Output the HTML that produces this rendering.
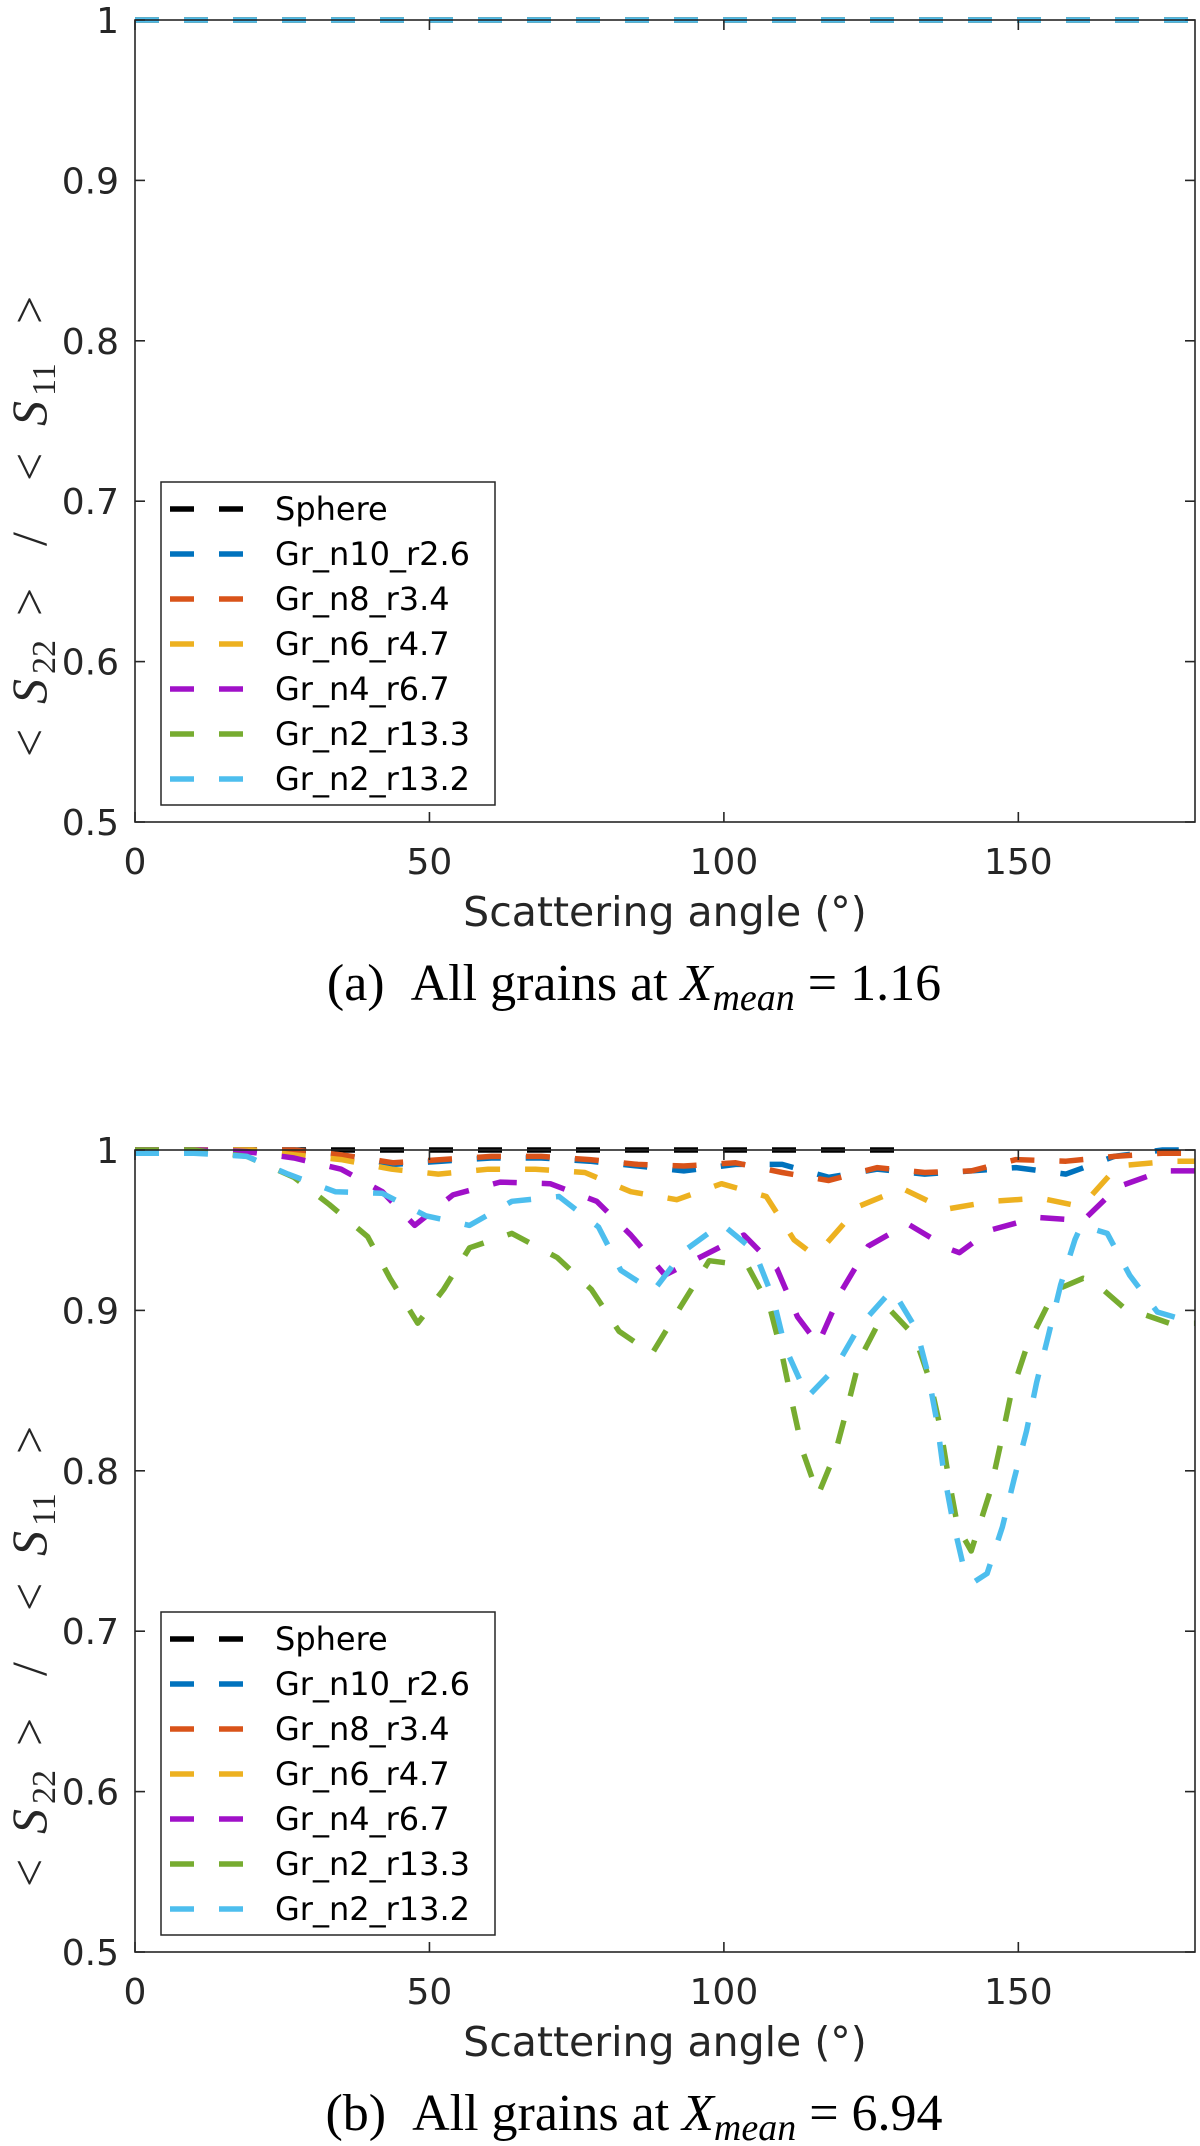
<!DOCTYPE html>
<html>
<head>
<meta charset="utf-8">
<style>
  html, body { margin: 0; padding: 0; background: #fff; }
  svg { display: block; }
  .tick-label { font-family: "DejaVu Sans", "Liberation Sans", sans-serif; font-size: 36px; fill: #262626; }
  .axis-title { font-family: "DejaVu Sans", "Liberation Sans", sans-serif; font-size: 41px; fill: #262626; }
  .legend-text { font-family: "DejaVu Sans", "Liberation Sans", sans-serif; font-size: 32px; fill: #000; }
  .caption { font-family: "Liberation Serif", serif; font-size: 52px; fill: #000; }
  .ylab { font-family: "Liberation Serif", serif; font-size: 50px; fill: #262626; }
</style>
</head>
<body>
<svg id="fig" width="1200" height="2146" viewBox="0 0 1200 2146" xmlns="http://www.w3.org/2000/svg"></svg>
<script>
// ---------- data ----------
const seriesNames = ["Sphere", "Gr_n10_r2.6", "Gr_n8_r3.4", "Gr_n6_r4.7", "Gr_n4_r6.7", "Gr_n2_r13.3", "Gr_n2_r13.2"];
const xTicks = [0, 50, 100, 150];
const yTicks = [0.5, 0.6, 0.7, 0.8, 0.9, 1];
const yTickLabels = ["0.5", "0.6", "0.7", "0.8", "0.9", "1"];

// Panel (a): all grains at X_mean = 1.16
const aSphereX = [0, 180];  const aSphereY = [1, 1];
const aN10X = [0, 180];     const aN10Y = [1, 1];
const aN8X = [0, 180];      const aN8Y = [1, 1];
const aN6X = [0, 180];      const aN6Y = [1, 1];
const aN4X = [0, 180];      const aN4Y = [1, 1];
const aN2aX = [0, 180];     const aN2aY = [1, 1];
const aN2bX = [0, 180];     const aN2bY = [1, 1];

// Panel (b): all grains at X_mean = 6.94
const bSphereX = [0, 129];
const bSphereY = [1, 1];
const bN10X = [0,10,20,27,35,43.9,52,60.5,69,77.2,85.4,93.2,102,109.9,117.8,126,134.1,142,149.6,158.1,166.3,174.5,180];
const bN10Y = [1,1,1,1,0.997,0.991,0.993,0.995,0.995,0.993,0.99,0.987,0.991,0.991,0.983,0.988,0.985,0.987,0.989,0.985,0.996,1,1];
const bN8X = [0,10,20,27,35,43.9,52,60.5,69,77.2,85.4,93.2,102,109.9,117.8,126,134.1,142,149.6,158.1,166.3,174.5,180];
const bN8Y = [1,1,1,1,0.997,0.992,0.994,0.996,0.996,0.994,0.991,0.99,0.992,0.986,0.981,0.989,0.986,0.987,0.994,0.993,0.996,0.998,0.998];
const bN6X = [0,10,20,27,35,43.6,51.5,60,68,76.4,84.2,92,99.6,107.2,111.9,114.8,117.5,123,130.3,137.6,145.5,153.7,159,161.5,166.9,176,180];
const bN6Y = [1,1,1,0.997,0.994,0.988,0.985,0.988,0.988,0.986,0.974,0.969,0.979,0.971,0.944,0.936,0.942,0.965,0.976,0.963,0.968,0.97,0.966,0.968,0.99,0.993,0.993];
const bN4X = [0,10,19,27,35,42,47.5,54,62,70.5,78.4,84.2,90,96.4,103.4,109,112.5,116,120.1,124.5,131.2,138.5,140,145.2,153.1,161,166.9,174.5,180];
const bN4Y = [1,1,0.999,0.995,0.988,0.974,0.953,0.972,0.98,0.979,0.968,0.947,0.922,0.934,0.947,0.926,0.896,0.879,0.913,0.94,0.954,0.938,0.936,0.95,0.958,0.956,0.977,0.987,0.987];
const bN2aX = [0,10,19,27,33,39.5,43.3,48,52.4,56.8,64,71.7,77.5,82.2,87.8,92.6,97.5,104,107.8,109.9,111.6,113.4,116,118.9,121,123,126.8,128.3,132.4,135,136.8,138.2,139.7,142,145.2,147,148.7,151.4,155.2,157.2,161,162.8,167.8,175.6,180];
const bN2aY = [1,1,0.996,0.983,0.966,0.946,0.92,0.892,0.913,0.939,0.948,0.933,0.913,0.887,0.873,0.902,0.931,0.928,0.902,0.872,0.842,0.812,0.785,0.811,0.84,0.869,0.896,0.9,0.884,0.856,0.826,0.795,0.765,0.75,0.787,0.817,0.847,0.877,0.905,0.914,0.92,0.918,0.902,0.892,0.892];
const bN2bX = [0,10,19,26,34,42,49.4,56.8,64,72,78.7,82.5,88,93.2,99.6,105.2,108.4,110.4,114.2,118.9,123,128.6,132.7,134.7,136.2,137.3,138.8,140.9,142.6,144.7,147.3,149.3,151.4,153.1,155.2,157.2,159.6,160.7,165.1,168.9,173.6,180];
const bN2bY = [0.998,0.998,0.996,0.985,0.974,0.973,0.959,0.953,0.968,0.971,0.952,0.925,0.912,0.937,0.954,0.937,0.907,0.877,0.846,0.864,0.89,0.913,0.888,0.86,0.83,0.8,0.77,0.737,0.731,0.736,0.765,0.795,0.825,0.855,0.886,0.916,0.944,0.953,0.948,0.922,0.899,0.892];

// ---------- rendering ----------
const NS = "http://www.w3.org/2000/svg";
const svg = document.getElementById("fig");
const colors = ["#000000", "#0072BD", "#D95319", "#EDB120", "#A010C8", "#77AC30", "#4DBEEE"];
const slugs = ["sphere", "gr-n10-r2-6", "gr-n8-r3-4", "gr-n6-r4-7", "gr-n4-r6-7", "gr-n2-r13-3", "gr-n2-r13-2"];
const X0 = 135, X1 = 1195;
const xMin = 0, xMax = 180, yMin = 0.5, yMax = 1;

function mk(tag, attrs, parent) {
  const e = document.createElementNS(NS, tag);
  for (const k in attrs) e.setAttribute(k, attrs[k]);
  (parent || svg).appendChild(e);
  return e;
}

function drawPanel(id, top, bottom, xs, ys, captionLetter, captionValue) {
  const g = mk("g", {});
  
  
  const xScale = v => X0 + (v - xMin) / (xMax - xMin) * (X1 - X0);
  const yScale = v => bottom - (v - yMin) / (yMax - yMin) * (bottom - top);

  const sg = mk("g", {}, g);
  
  
  for (let s = 0; s < xs.length; s++) {
    const pts = xs[s].map((x, i) => xScale(x).toFixed(1) + "," + yScale(ys[s][i]).toFixed(1)).join(" ");
    const pl = mk("polyline", {points: pts, fill: "none", stroke: colors[s], "stroke-width": 5.5,
      "stroke-dasharray": "24 25", "stroke-linejoin": "round"}, sg);
    
    
  }

  const box = mk("rect", {x: X0, y: top, width: X1 - X0, height: bottom - top, fill: "none", stroke: "#262626", "stroke-width": 1.6}, g);
  
  

  xTicks.forEach(t => {
    const x = xScale(t);
    mk("line", {x1: x, y1: bottom, x2: x, y2: bottom - 10, stroke: "#262626", "stroke-width": 1.6}, g);
    mk("line", {x1: x, y1: top, x2: x, y2: top + 10, stroke: "#262626", "stroke-width": 1.6}, g);
    const tl = mk("text", {x: x, y: bottom + 52, "text-anchor": "middle", class: "tick-label"}, g);
    tl.textContent = String(t);
    
    
  });
  yTicks.forEach((t, i) => {
    const y = yScale(t);
    mk("line", {x1: X0, y1: y, x2: X0 + 10, y2: y, stroke: "#262626", "stroke-width": 1.6}, g);
    mk("line", {x1: X1, y1: y, x2: X1 - 10, y2: y, stroke: "#262626", "stroke-width": 1.6}, g);
    const tl = mk("text", {x: 119, y: y + 13, "text-anchor": "end", class: "tick-label"}, g);
    tl.textContent = yTickLabels[i];
    
    
  });

  const xt = mk("text", {x: 665, y: bottom + 104, "text-anchor": "middle", class: "axis-title"}, g);
  xt.textContent = "Scattering angle (°)";
  
  

  // y axis title: pieces placed along rotated baseline (reference spans ~562px, centred ~55px below plot middle)
  const yc = (top + bottom) / 2 + 55;
  const yt = mk("text", {x: 0, y: 0, class: "ylab",
    transform: "translate(46," + yc + ") rotate(-90)"}, g);
  
  
  yt.innerHTML =
    '<tspan x="-281" y="0">&lt;</tspan>' +
    '<tspan x="-228" y="0" font-style="italic">S</tspan>' +
    '<tspan x="-198" y="9" font-size="34">22</tspan>' +
    '<tspan x="-140" y="0">&gt;</tspan>' +
    '<tspan x="-70" y="0">/</tspan>' +
    '<tspan x="-5" y="0">&lt;</tspan>' +
    '<tspan x="50" y="0" font-style="italic">S</tspan>' +
    '<tspan x="80" y="9" font-size="34">11</tspan>' +
    '<tspan x="152" y="0">&gt;</tspan>';

  const lg = mk("g", {}, g);
  
  
  const ly0 = bottom - 340;
  mk("rect", {x: 161, y: ly0, width: 334, height: 323, fill: "#fff", stroke: "#262626", "stroke-width": 1.5}, lg);
  for (let s = 0; s < seriesNames.length; s++) {
    const ry = ly0 + 27 + s * 45;
    const le = mk("g", {}, lg);
    
    
    mk("line", {x1: 170, y1: ry, x2: 194, y2: ry, stroke: colors[s], "stroke-width": 5.5}, le);
    mk("line", {x1: 219, y1: ry, x2: 243, y2: ry, stroke: colors[s], "stroke-width": 5.5}, le);
    const tx = mk("text", {x: 275, y: ry + 11, class: "legend-text"}, le);
    tx.textContent = seriesNames[s];
  }

  const cap = mk("text", {x: 634, y: bottom + 178, "text-anchor": "middle", class: "caption"}, g);
  
  
  cap.innerHTML = '(' + captionLetter + ')\u2002All grains at <tspan font-style="italic">X</tspan><tspan font-style="italic" font-size="38" dy="10">mean</tspan><tspan dy="-10"> = ' + captionValue + '</tspan>';
}

drawPanel("a", 20, 822,
  [aSphereX, aN10X, aN8X, aN6X, aN4X, aN2aX, aN2bX],
  [aSphereY, aN10Y, aN8Y, aN6Y, aN4Y, aN2aY, aN2bY], "a", "1.16");
drawPanel("b", 1150, 1952,
  [bSphereX, bN10X, bN8X, bN6X, bN4X, bN2aX, bN2bX],
  [bSphereY, bN10Y, bN8Y, bN6Y, bN4Y, bN2aY, bN2bY], "b", "6.94");
</script>
</body>
</html>
